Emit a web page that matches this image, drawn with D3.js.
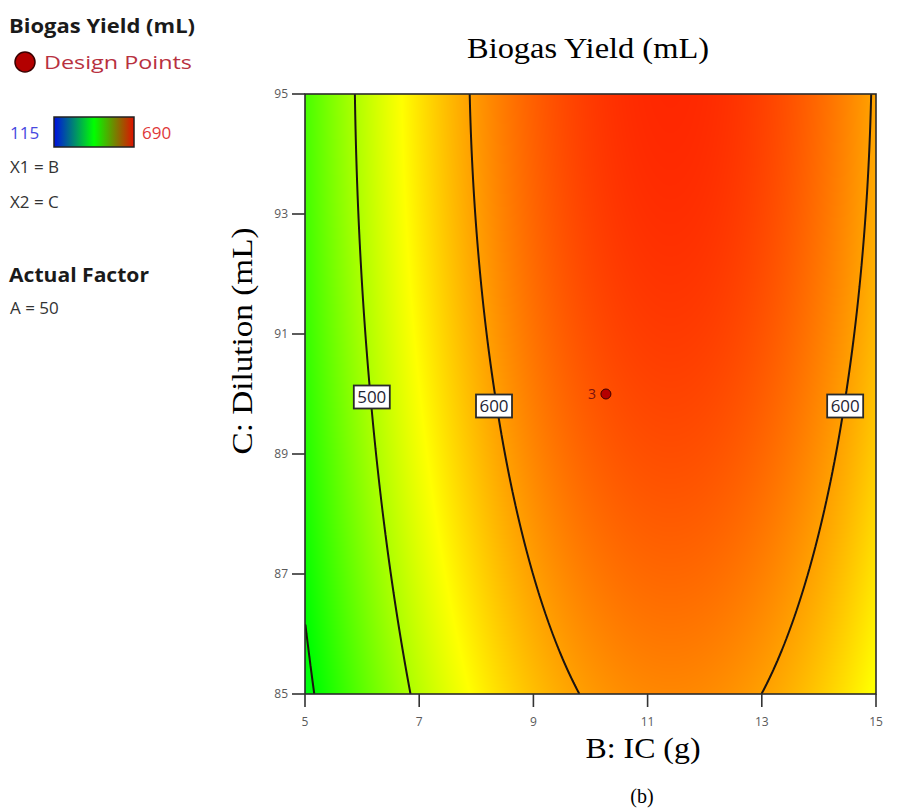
<!DOCTYPE html>
<html><head><meta charset="utf-8">
<script src="https://cdn.jsdelivr.net/npm/d3@7"></script>
<style>body{margin:0;background:#fff}svg{display:block}</style>
</head><body>
<svg id="chart" width="915" height="812"></svg>
<script>
// ---------- data ----------
const bValues = [5, 6, 7, 8, 9, 10, 11, 12, 13, 14, 15];          // B: IC (g)
const cValues = [85, 86, 87, 88, 89, 90, 91, 92, 93, 94, 95];     // C: Dilution (mL)
// Biogas yield (mL), one row per C value (85 -> 95), columns follow bValues
const yieldRows = [
  [388.7, 453.6, 507.5, 550.4, 582.3, 603.2, 613.1, 612.0, 599.9, 576.8, 542.7],
  [398.1, 463.0, 516.9, 559.8, 591.7, 612.6, 622.5, 621.4, 609.3, 586.2, 552.1],
  [406.6, 471.5, 525.4, 568.3, 600.2, 621.1, 631.0, 629.9, 617.8, 594.7, 560.6],
  [414.2, 479.1, 533.0, 575.9, 607.8, 628.7, 638.6, 637.5, 625.4, 602.3, 568.2],
  [420.9, 485.8, 539.7, 582.6, 614.5, 635.4, 645.3, 644.2, 632.1, 609.0, 574.9],
  [426.7, 491.6, 545.5, 588.4, 620.3, 641.2, 651.1, 650.0, 637.9, 614.8, 580.7],
  [431.7, 496.6, 550.5, 593.4, 625.3, 646.2, 656.1, 655.0, 642.9, 619.8, 585.7],
  [435.8, 500.7, 554.6, 597.5, 629.4, 650.3, 660.2, 659.1, 647.0, 623.9, 589.8],
  [439.0, 503.9, 557.8, 600.7, 632.6, 653.5, 663.4, 662.3, 650.2, 627.1, 593.0],
  [441.3, 506.2, 560.1, 603.0, 634.9, 655.8, 665.7, 664.6, 652.5, 629.4, 595.3],
  [442.7, 507.6, 561.5, 604.4, 636.3, 657.2, 667.1, 666.0, 653.9, 630.8, 596.7]
];
const xTicks = [5, 7, 9, 11, 13, 15];
const yTicks = [85, 87, 89, 91, 93, 95];
const contourLevels = [400, 500, 600];
const labelLevels = [500, 600, 600];
const labelB = [6.17, 8.31, 14.46];
const labelC = [89.95, 89.8, 89.8];
const designB = [10.27];
const designC = [90];
const designCount = ["3"];
const colorMin = 115, colorMax = 690;

// ---------- layout ----------
const svg = d3.select("#chart");
svg.append("rect").attr("width", 915).attr("height", 812).attr("fill", "#fff");
const P = {left: 305, top: 94, w: 571, h: 600};
const x = d3.scaleLinear().domain([d3.min(bValues), d3.max(bValues)]).range([P.left, P.left + P.w]);
const y = d3.scaleLinear().domain([d3.min(cValues), d3.max(cValues)]).range([P.top + P.h, P.top]);
const hue = d3.scaleLinear().domain([colorMin, colorMax]).range([240, 0]).clamp(true);

// ---------- smooth surface from the grid ----------
function cr(p0, p1, p2, p3, t) {
  return 0.5 * (2 * p1 + (-p0 + p2) * t + (2 * p0 - 5 * p1 + 4 * p2 - p3) * t * t + (-p0 + 3 * p1 - 3 * p2 + p3) * t * t * t);
}
function interp1(arr, u) {
  const n = arr.length;
  let i = Math.floor(u); if (i > n - 2) i = n - 2; if (i < 0) i = 0;
  const t = u - i;
  const g = k => k < 0 ? 3 * arr[0] - 3 * arr[1] + arr[2] : (k > n - 1 ? 3 * arr[n - 1] - 3 * arr[n - 2] + arr[n - 3] : arr[k]);
  return cr(g(i - 1), g(i), g(i + 1), g(i + 2), t);
}
const NX = P.w, NY = P.h;
const bStep = (bValues[bValues.length - 1] - bValues[0]) / (bValues.length - 1);
const cStep = (cValues[cValues.length - 1] - cValues[0]) / (cValues.length - 1);
const rowI = yieldRows.map(row => {
  const out = new Float64Array(NX);
  for (let i = 0; i < NX; i++) {
    const B = x.invert(P.left + (i + 0.5) * P.w / NX);
    out[i] = interp1(row, (B - bValues[0]) / bStep);
  }
  return out;
});
const values = new Float64Array(NX * NY);
const col = new Array(yieldRows.length);
for (let i = 0; i < NX; i++) {
  for (let r = 0; r < yieldRows.length; r++) col[r] = rowI[r][i];
  for (let j = 0; j < NY; j++) {
    const C = y.invert(P.top + (j + 0.5) * P.h / NY);
    values[j * NX + i] = interp1(col, (C - cValues[0]) / cStep);
  }
}

// heat map
const canvas = document.createElement("canvas");
canvas.width = NX; canvas.height = NY;
const ctx = canvas.getContext("2d");
const img = ctx.createImageData(NX, NY);
for (let k = 0; k < NX * NY; k++) {
  const c = d3.hsl(hue(values[k]), 1, 0.5).rgb();
  img.data[4 * k] = c.r; img.data[4 * k + 1] = c.g; img.data[4 * k + 2] = c.b; img.data[4 * k + 3] = 255;
}
ctx.putImageData(img, 0, 0);
const defs = svg.append("defs");
defs.append("clipPath").attr("id", "plotclip")
  .append("rect").attr("x", P.left).attr("y", P.top).attr("width", P.w).attr("height", P.h);
svg.append("image").attr("x", P.left).attr("y", P.top).attr("width", P.w).attr("height", P.h)
  .attr("preserveAspectRatio", "none").attr("href", canvas.toDataURL());

// contour lines
const contours = d3.contours().size([NX, NY]).thresholds(contourLevels)(values);
const sx = v => P.left + v * P.w / NX, sy = v => P.top + v * P.h / NY;
const eps = 1e-6;
function onEdge(a, b) {
  return (Math.abs(a[0]) < eps && Math.abs(b[0]) < eps) || (Math.abs(a[0] - NX) < eps && Math.abs(b[0] - NX) < eps) ||
         (Math.abs(a[1]) < eps && Math.abs(b[1]) < eps) || (Math.abs(a[1] - NY) < eps && Math.abs(b[1] - NY) < eps);
}
const lineG = svg.append("g").attr("clip-path", "url(#plotclip)");
contours.forEach(mp => {
  let d = "";
  mp.coordinates.forEach(poly => poly.forEach(ring => {
    let pen = false;
    for (let k = 1; k < ring.length; k++) {
      const a = ring[k - 1], b = ring[k];
      if (onEdge(a, b)) { pen = false; continue; }
      if (!pen) { d += "M" + sx(a[0]).toFixed(2) + "," + sy(a[1]).toFixed(2); pen = true; }
      d += "L" + sx(b[0]).toFixed(2) + "," + sy(b[1]).toFixed(2);
    }
  }));
  lineG.append("path").attr("d", d).attr("fill", "none").attr("stroke", "#1b1410").attr("stroke-width", 2);
});

// contour labels
const labG = svg.append("g");
labelLevels.forEach((lv, k) => {
  const cx = x(labelB[k]), cy = y(labelC[k]);
  labG.append("rect").attr("x", cx - 18).attr("y", cy - 11.5).attr("width", 36).attr("height", 23)
    .attr("fill", "#fff").attr("stroke", "#2a2a2a").attr("stroke-width", 1.8);
  labG.append("text").attr("x", cx).attr("y", cy + 6).attr("text-anchor", "middle")
    .attr("font-family", "Open Sans, sans-serif").attr("font-size", 16).attr("fill", "#1e2433")
    .attr("textLength", 29).attr("lengthAdjust", "spacingAndGlyphs").text(lv);
});

// design points
designB.forEach((b, k) => {
  svg.append("circle").attr("cx", x(b)).attr("cy", y(designC[k])).attr("r", 5)
    .attr("fill", "#b50000").attr("stroke", "#3a0000").attr("stroke-width", 1);
  svg.append("text").attr("x", x(b) - 10).attr("y", y(designC[k]) + 5).attr("text-anchor", "end")
    .attr("font-family", "Open Sans, sans-serif").attr("font-size", 14).attr("fill", "#7a1010").text(designCount[k]);
});

// frame
svg.append("rect").attr("x", P.left).attr("y", P.top).attr("width", P.w).attr("height", P.h)
  .attr("fill", "none").attr("stroke", "#2b2b2b").attr("stroke-width", 1.6);

// ticks
const tickFont = "Open Sans, sans-serif";
xTicks.forEach(t => {
  svg.append("line").attr("x1", x(t)).attr("x2", x(t)).attr("y1", P.top + P.h).attr("y2", P.top + P.h + 13)
    .attr("stroke", "#333").attr("stroke-width", 1.6);
  svg.append("text").attr("x", x(t)).attr("y", P.top + P.h + 32).attr("text-anchor", "middle")
    .attr("font-family", tickFont).attr("font-size", 12).attr("fill", "#5a5a5a").text(t);
});
yTicks.forEach(t => {
  svg.append("line").attr("x1", P.left - 13).attr("x2", P.left).attr("y1", y(t)).attr("y2", y(t))
    .attr("stroke", "#333").attr("stroke-width", 1.6);
  svg.append("text").attr("x", P.left - 17).attr("y", y(t) + 4).attr("text-anchor", "end")
    .attr("font-family", tickFont).attr("font-size", 12).attr("fill", "#5a5a5a").text(t);
});

// titles
const serif = "Liberation Serif, Times New Roman, serif";
svg.append("text").attr("x", 588).attr("y", 58).attr("text-anchor", "middle").attr("font-family", serif)
  .attr("font-size", 30).attr("fill", "#000").attr("textLength", 242).attr("lengthAdjust", "spacingAndGlyphs")
  .text("Biogas Yield (mL)");
svg.append("text").attr("x", 643).attr("y", 758).attr("text-anchor", "middle").attr("font-family", serif)
  .attr("font-size", 30).attr("fill", "#000").attr("textLength", 115).attr("lengthAdjust", "spacingAndGlyphs")
  .text("B: IC (g)");
svg.append("text").attr("transform", "translate(252,341) rotate(-90)").attr("text-anchor", "middle")
  .attr("font-family", serif).attr("font-size", 30).attr("fill", "#000")
  .attr("textLength", 227).attr("lengthAdjust", "spacingAndGlyphs").text("C: Dilution (mL)");
svg.append("text").attr("x", 642).attr("y", 803).attr("text-anchor", "middle").attr("font-family", serif)
  .attr("font-size", 20).attr("fill", "#000").text("(b)");

// legend block
const sans = "Open Sans, Segoe UI, sans-serif";
svg.append("text").attr("x", 9).attr("y", 33).attr("font-family", sans).attr("font-weight", "bold")
  .attr("font-size", 19).attr("fill", "#1a1a1a").attr("textLength", 186).attr("lengthAdjust", "spacingAndGlyphs")
  .text("Biogas Yield (mL)");
svg.append("circle").attr("cx", 25).attr("cy", 62).attr("r", 10).attr("fill", "#b30000").attr("stroke", "#3a0000").attr("stroke-width", 1.5);
svg.append("text").attr("x", 44).attr("y", 69).attr("font-family", sans).attr("font-size", 18)
  .attr("fill", "#b8313f").attr("textLength", 148).attr("lengthAdjust", "spacingAndGlyphs").text("Design Points");
const grad = defs.append("linearGradient").attr("id", "cbar");
grad.append("stop").attr("offset", "0%").attr("stop-color", "#0010e0");
grad.append("stop").attr("offset", "50%").attr("stop-color", "#00ff00");
grad.append("stop").attr("offset", "100%").attr("stop-color", "#e01000");
svg.append("text").attr("x", 10).attr("y", 139).attr("font-family", sans).attr("font-size", 17)
  .attr("fill", "#4848e0").text(colorMin);
svg.append("rect").attr("x", 54).attr("y", 117).attr("width", 80).attr("height", 30)
  .attr("fill", "url(#cbar)").attr("stroke", "#222").attr("stroke-width", 1.5);
svg.append("text").attr("x", 142).attr("y", 139).attr("font-family", sans).attr("font-size", 17)
  .attr("fill", "#e03838").text(colorMax);
svg.append("text").attr("x", 10).attr("y", 173).attr("font-family", sans).attr("font-size", 17).attr("fill", "#333").text("X1 = B");
svg.append("text").attr("x", 10).attr("y", 208).attr("font-family", sans).attr("font-size", 17).attr("fill", "#333").text("X2 = C");
svg.append("text").attr("x", 9).attr("y", 282).attr("font-family", sans).attr("font-weight", "bold")
  .attr("font-size", 19).attr("fill", "#1a1a1a").attr("textLength", 140).attr("lengthAdjust", "spacingAndGlyphs").text("Actual Factor");
svg.append("text").attr("x", 10).attr("y", 314).attr("font-family", sans).attr("font-size", 17).attr("fill", "#333").text("A = 50");
</script>
</body></html>
